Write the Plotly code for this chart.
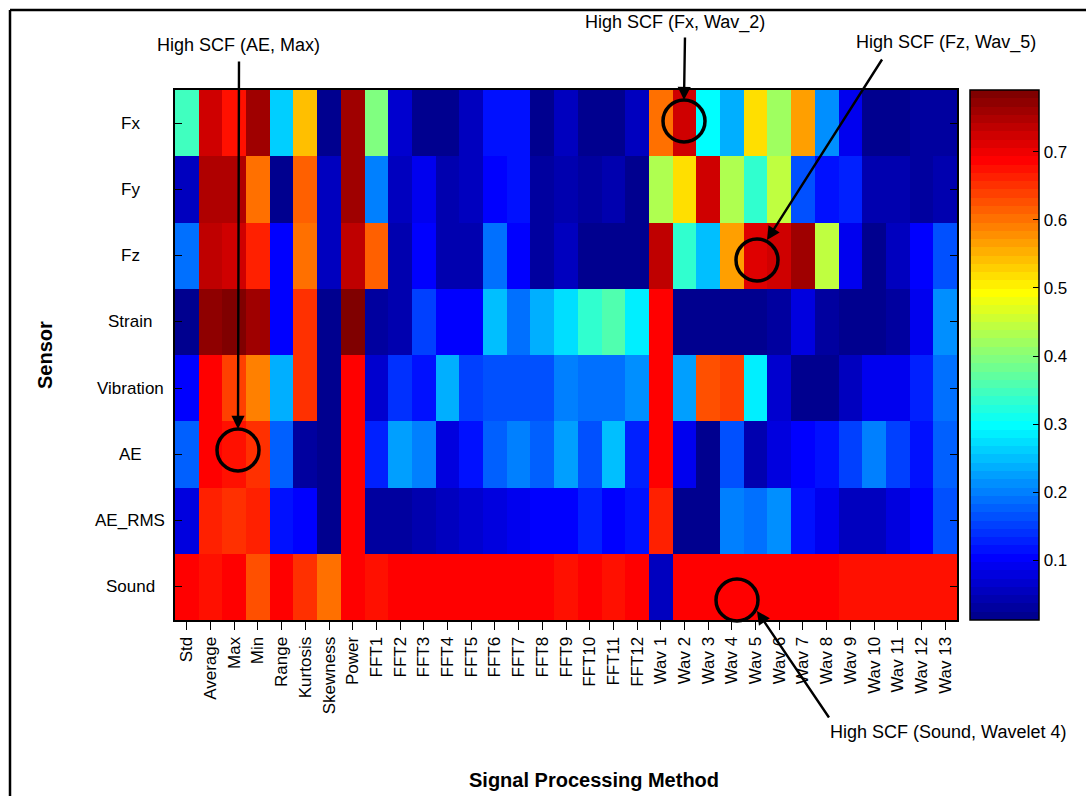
import plotly.graph_objects as go

# ---- data -----------------------------------------------------------------
sensors = ["Fx", "Fy", "Fz", "Strain", "Vibration", "AE", "AE_RMS", "Sound"]

methods = ["Std", "Average", "Max", "Min", "Range", "Kurtosis", "Skewness", "Power",
           "FFT1", "FFT2", "FFT3", "FFT4", "FFT5", "FFT6", "FFT7", "FFT8", "FFT9",
           "FFT10", "FFT11", "FFT12",
           "Wav 1", "Wav 2", "Wav 3", "Wav 4", "Wav 5", "Wav 6", "Wav 7", "Wav 8",
           "Wav 9", "Wav 10", "Wav 11", "Wav 12", "Wav 13"]

# SCF value per sensor, one entry per signal processing method
scf_fx = [0.343, 0.719, 0.678, 0.758, 0.265, 0.538, 0.022, 0.766, 0.400, 0.061, 0.015,
          0.015, 0.050, 0.117, 0.110, 0.015, 0.050, 0.015, 0.015, 0.060,
          0.606, 0.719, 0.304, 0.236, 0.513, 0.417, 0.561, 0.207, 0.090, 0.020, 0.020,
          0.030, 0.035]
scf_fy = [0.060, 0.746, 0.746, 0.606, 0.020, 0.620, 0.050, 0.766, 0.197, 0.050, 0.090,
          0.038, 0.050, 0.105, 0.120, 0.035, 0.040, 0.035, 0.038, 0.015,
          0.427, 0.513, 0.719, 0.427, 0.333, 0.440, 0.168, 0.120, 0.130, 0.040, 0.040,
          0.035, 0.040]
scf_fz = [0.187, 0.733, 0.719, 0.668, 0.105, 0.606, 0.060, 0.742, 0.620, 0.040, 0.105,
          0.045, 0.045, 0.187, 0.105, 0.035, 0.060, 0.020, 0.015, 0.015,
          0.742, 0.333, 0.255, 0.571, 0.713, 0.719, 0.755, 0.440, 0.090, 0.020, 0.060,
          0.105, 0.168]
scf_strain = [0.020, 0.772, 0.790, 0.758, 0.100, 0.655, 0.015, 0.790, 0.035, 0.040, 0.148,
              0.105, 0.105, 0.255, 0.187, 0.236, 0.270, 0.333, 0.362, 0.290,
              0.688, 0.015, 0.015, 0.015, 0.015, 0.035, 0.080, 0.035, 0.020, 0.020, 0.030,
              0.090, 0.207]
scf_vibration = [0.105, 0.688, 0.635, 0.587, 0.242, 0.655, 0.020, 0.688, 0.070, 0.140, 0.115,
                 0.242, 0.148, 0.160, 0.160, 0.165, 0.200, 0.187, 0.190, 0.215,
                 0.688, 0.226, 0.630, 0.641, 0.290, 0.070, 0.015, 0.012, 0.060, 0.090, 0.090,
                 0.130, 0.187]
scf_ae = [0.178, 0.688, 0.674, 0.650, 0.175, 0.030, 0.015, 0.688, 0.130, 0.226, 0.200,
          0.080, 0.115, 0.178, 0.200, 0.178, 0.226, 0.160, 0.250, 0.130,
          0.688, 0.090, 0.012, 0.160, 0.040, 0.080, 0.100, 0.115, 0.148, 0.200, 0.150,
          0.120, 0.178]
scf_ae_rms = [0.080, 0.664, 0.655, 0.668, 0.115, 0.105, 0.015, 0.688, 0.030, 0.030, 0.040,
              0.050, 0.070, 0.080, 0.090, 0.105, 0.100, 0.130, 0.100, 0.120,
              0.668, 0.012, 0.015, 0.200, 0.187, 0.215, 0.115, 0.090, 0.050, 0.060, 0.080,
              0.105, 0.168]
scf_sound = [0.684, 0.670, 0.684, 0.630, 0.684, 0.655, 0.606, 0.688, 0.674, 0.688, 0.688,
             0.688, 0.688, 0.688, 0.684, 0.688, 0.674, 0.684, 0.674, 0.684,
             0.060, 0.688, 0.688, 0.688, 0.688, 0.688, 0.688, 0.688, 0.680, 0.680, 0.680,
             0.680, 0.680]

scf = [scf_fx, scf_fy, scf_fz, scf_strain, scf_vibration, scf_ae, scf_ae_rms, scf_sound]

colorbar_ticks = [0.1, 0.2, 0.3, 0.4, 0.5, 0.6, 0.7]
c_min, c_max = 0.012, 0.791

callouts = [
    # text, (text centre), (arrow tail), (arrow tip), (circle centre)  -- figure pixels
    ("High SCF (AE, Max)", (238, 45), (239, 60), (238, 429), (238, 450)),
    ("High SCF (Fx, Wav_2)", (675, 22), (685, 36), (684, 100), (684, 121)),
    ("High SCF (Fz, Wav_5)", (946, 42), (883, 58), (767, 240), (757, 260)),
    ("High SCF (Sound, Wavelet 4)", (948, 732), (830, 719), (757, 611), (737, 600)),
]


# ---- 64-level jet colour map --------------------------------------------------
def jet(n=64):
    m = -(-n // 4)
    u = [i / m for i in range(1, m + 1)] + [1.0] * (m - 1) + [i / m for i in range(m, 0, -1)]
    g0 = -(-m // 2) - (1 if n % 4 == 1 else 0)
    cols = [[0.0, 0.0, 0.0] for _ in range(n)]
    for k, val in enumerate(u, start=1):
        for ch, idx in ((1, g0 + k), (0, g0 + k + m), (2, g0 + k - m)):
            if 1 <= idx <= n:
                cols[idx - 1][ch] = val
    return cols


levels = jet(64)
colorscale = []
for i, (r, g, b) in enumerate(levels):
    c = f"rgb({round(r * 255)},{round(g * 255)},{round(b * 255)})"
    colorscale.append([i / 64, c])
    colorscale.append([(i + 1) / 64, c])

# ---- figure geometry ------------------------------------------------------------
W, H = 1086, 796
L, R, T, B = 175, 129, 90, 176
PW, PH = W - L - R, H - T - B
CB_LEFT, CB_WIDTH = 970, 69


def paper(px, py):
    return (px - L) / PW, 1 - (py - T) / PH


FONT = "Liberation Sans, Arial, Helvetica, sans-serif"

fig = go.Figure()
fig.add_trace(go.Heatmap(
    z=scf,
    x=list(range(len(methods))),
    y=list(range(len(sensors))),
    zmin=c_min, zmax=c_max,
    colorscale=colorscale,
    showscale=True,
    colorbar=dict(
        thickness=CB_WIDTH, thicknessmode="pixels",
        len=1, lenmode="fraction", y=0.5, yanchor="middle",
        x=paper(CB_LEFT, 0)[0], xanchor="left", xpad=0, ypad=0,
        outlinecolor="black", outlinewidth=1.5,
        tickvals=colorbar_ticks,
        ticktext=[f"{v:.1f}" for v in colorbar_ticks],
        ticks="inside", ticklen=6, tickcolor="black", tickwidth=1,
        ticklabelposition="outside",
        tickfont=dict(family=FONT, size=17, color="black"),
    ),
    hoverongaps=False,
))

annotations = []
shapes = []

# sensor names, centred left of the rows
for i, name in enumerate(sensors):
    annotations.append(dict(
        text=name, xref="paper", yref="y", x=paper(130, 0)[0], y=i,
        xanchor="center", yanchor="middle", showarrow=False,
        font=dict(family=FONT, size=17, color="black")))

# axis titles
sx, sy = paper(45, 355)
annotations.append(dict(text="<b>Sensor</b>", xref="paper", yref="paper", x=sx, y=sy,
                        textangle=-90, showarrow=False, xanchor="center", yanchor="middle",
                        font=dict(family=FONT, size=20, color="black")))
tx, ty = paper(594, 780)
annotations.append(dict(text="<b>Signal Processing Method</b>", xref="paper", yref="paper",
                        x=tx, y=ty, showarrow=False, xanchor="center", yanchor="middle",
                        font=dict(family=FONT, size=20, color="black")))

# call-outs: label, arrow and ring
for text, tpos, tail, tip, ring in callouts:
    x, y = paper(*tpos)
    annotations.append(dict(text=text, xref="paper", yref="paper", x=x, y=y,
                            showarrow=False, xanchor="center", yanchor="middle",
                            font=dict(family=FONT, size=18, color="black")))
    hx, hy = paper(*tip)
    annotations.append(dict(text="", xref="paper", yref="paper", x=hx, y=hy,
                            ax=tail[0] - tip[0], ay=tail[1] - tip[1],
                            showarrow=True, arrowhead=2, arrowsize=1.1, arrowwidth=2.4,
                            arrowcolor="black", standoff=0, startstandoff=0))
    r = 21
    x0, y0 = paper(ring[0] - r, ring[1] + r)
    x1, y1 = paper(ring[0] + r, ring[1] - r)
    shapes.append(dict(type="circle", xref="paper", yref="paper",
                       x0=x0, y0=y0, x1=x1, y1=y1,
                       line=dict(color="black", width=3.5)))

# inward ticks on the left edge of the colour bar
bx0 = paper(CB_LEFT, 0)[0]
bx1 = paper(CB_LEFT + 6, 0)[0]
for v in colorbar_ticks:
    yb = (v - c_min) / (c_max - c_min)
    shapes.append(dict(type="line", xref="paper", yref="paper", x0=bx0, x1=bx1,
                       y0=yb, y1=yb, line=dict(color="black", width=1)))

# frame around the figure (top and left edges)
fx0, fy0 = paper(10, 10)
fx1, fy1 = paper(W + 5, H + 5)
shapes.append(dict(type="line", xref="paper", yref="paper", x0=fx0, y0=fy0, x1=fx1, y1=fy0,
                   line=dict(color="black", width=2.5)))
shapes.append(dict(type="line", xref="paper", yref="paper", x0=fx0, y0=fy0, x1=fx0, y1=fy1,
                   line=dict(color="black", width=2.5)))

n_cols = len(methods)
fig.update_layout(
    width=W, height=H,
    margin=dict(l=L, r=R, t=T, b=B, pad=0, autoexpand=False),
    paper_bgcolor="white", plot_bgcolor="white",
    font=dict(family=FONT, color="black"),
    xaxis=dict(
        range=[-0.5, n_cols - 0.5],
        tickvals=list(range(n_cols)), ticktext=methods, tickangle=-90,
        ticks="outside", ticklen=8, tickwidth=1.2, tickcolor="black",
        tickfont=dict(family=FONT, size=17, color="black"),
        showline=True, linecolor="black", linewidth=2, mirror=True,
        showgrid=False, zeroline=False,
    ),
    xaxis2=dict(
        overlaying="x", side="top", anchor="y",
        range=[-0.5, n_cols - 0.5],
        tickvals=[4, 9, 14, 19, 24, 29],
        ticks="inside", ticklen=7, tickwidth=1.2, tickcolor="black",
        showticklabels=False, showline=False, showgrid=False, zeroline=False,
    ),
    yaxis=dict(
        range=[len(sensors) - 0.5, -0.5],
        tickvals=list(range(len(sensors))), showticklabels=False,
        ticks="inside", ticklen=7, tickwidth=1.2, tickcolor="black",
        showline=True, linecolor="black", linewidth=2, mirror="ticks",
        showgrid=False, zeroline=False,
    ),
    annotations=annotations,
    shapes=shapes,
    showlegend=False,
)

fig.write_html("out.html")
